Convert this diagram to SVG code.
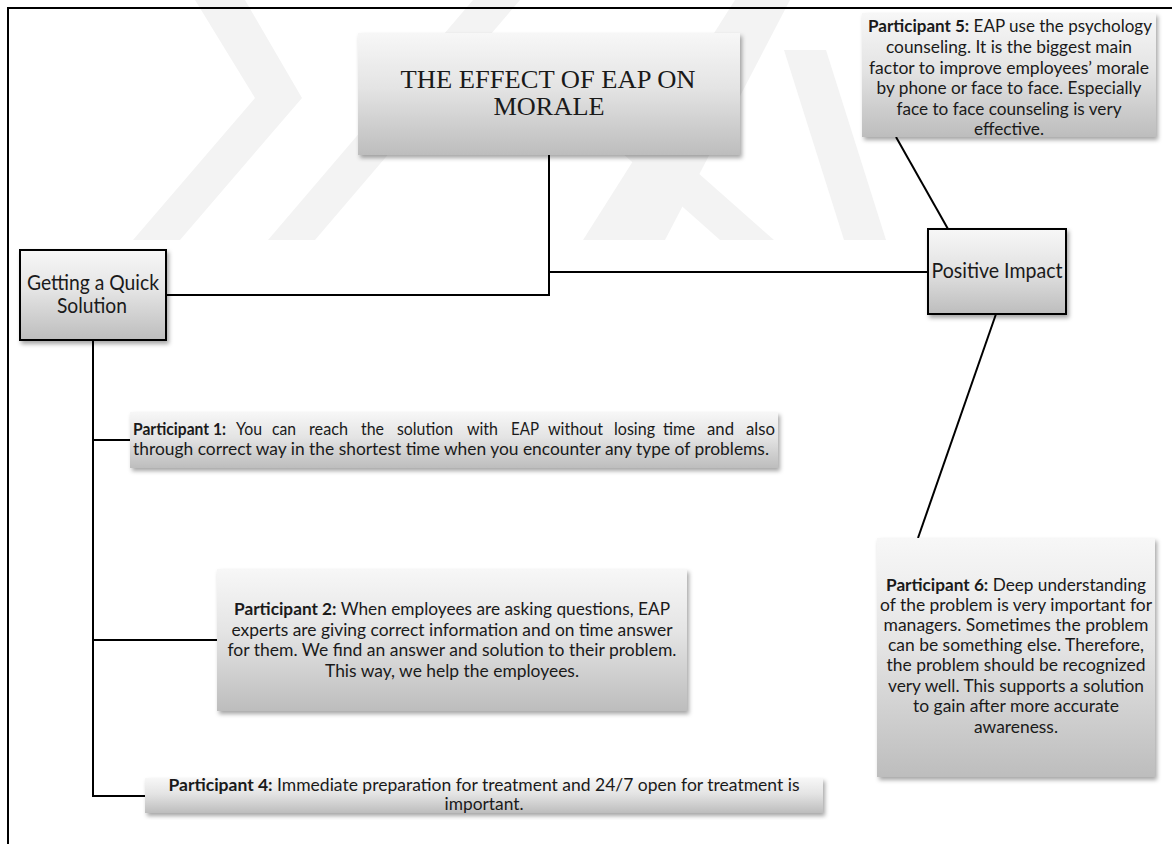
<svg xmlns="http://www.w3.org/2000/svg" width="1172" height="844" viewBox="0 0 1172 844">
<defs>
<linearGradient id="g" x1="0" y1="0" x2="0" y2="1">
<stop offset="0" stop-color="#f7f7f7"/>
<stop offset="0.45" stop-color="#e4e4e4"/>
<stop offset="1" stop-color="#bdbdbd"/>
</linearGradient>
<filter id="sh" x="-5%" y="-10%" width="112%" height="130%">
<feDropShadow dx="2" dy="3" stdDeviation="2" flood-color="#000" flood-opacity="0.35"/>
</filter>
<style>
.box{fill:url(#g);filter:url(#sh)}
.bbox{fill:url(#g);stroke:#000;stroke-width:2;filter:url(#sh)}
.t{font-family:Lato,Carlito,"Liberation Sans",sans-serif;font-size:17px;fill:#1a1a1a}
.l{font-family:Lato,Carlito,"Liberation Sans",sans-serif;font-size:21px;fill:#1a1a1a}
.ti{font-family:"Liberation Serif","Times New Roman",serif;font-size:26px;fill:#1a1a1a}
.b{font-weight:bold}
.c{text-anchor:middle}
.ln{fill:none;stroke:#000;stroke-width:2}
.wm{fill:#f3f3f3}
</style>
</defs>
<rect width="1172" height="844" fill="#fff"/>
<g id="watermark">
<polygon class="wm" points="195,0 245,0 302,98 180,240 133,240 255,98"/>
<polygon class="wm" points="268,240 315,240 520,0 473,0"/>
<polygon class="wm" points="487,33 540,33 774,240 720,240"/>
<polygon class="wm" points="583,240 665,240 790,0 735,0"/>
<polygon class="wm" points="784,50 826,50 886,240 844,240"/>
</g>
<g id="frame">
<path class="ln" d="M8,844 V8 H1172"/>
</g>
<g id="connectors">
<path class="ln" d="M549,155 V295 H166"/>
<path class="ln" d="M549,272 H928"/>
<path class="ln" d="M896,137 L948,229"/>
<path class="ln" d="M996,314 L918,538"/>
<path class="ln" d="M93,340 V796 H145"/>
<path class="ln" d="M93,440 H130"/>
<path class="ln" d="M93,640 H217"/>
</g>
<g id="title">
<rect class="box" x="358" y="33" width="382" height="122"/>
<text class="ti c" x="548" y="88" textLength="295" lengthAdjust="spacingAndGlyphs">THE EFFECT OF EAP ON</text>
<text class="ti c" x="549" y="115" textLength="111" lengthAdjust="spacingAndGlyphs">MORALE</text>
</g>
<g id="quick-solution">
<rect class="bbox" x="20" y="250" width="146" height="90"/>
<text class="l c" x="93" y="290" textLength="132" lengthAdjust="spacingAndGlyphs">Getting a Quick</text>
<text class="l c" x="92" y="313" textLength="70" lengthAdjust="spacingAndGlyphs">Solution</text>
</g>
<g id="positive-impact">
<rect class="bbox" x="928" y="229" width="138" height="85"/>
<text class="l c" x="997" y="278" textLength="131" lengthAdjust="spacingAndGlyphs">Positive Impact</text>
</g>
<g id="participant5">
<rect class="box" x="862" y="13" width="294" height="124"/>
<text class="t c" x="1010" y="32" textLength="284" lengthAdjust="spacingAndGlyphs"><tspan class="b">Participant 5:</tspan> EAP use the psychology</text>
<text class="t c" x="1009" y="53" textLength="246" lengthAdjust="spacingAndGlyphs">counseling. It is the biggest main</text>
<text class="t c" x="1009" y="74" textLength="280" lengthAdjust="spacingAndGlyphs">factor to improve employees’ morale</text>
<text class="t c" x="1009" y="94" textLength="265" lengthAdjust="spacingAndGlyphs">by phone or face to face. Especially</text>
<text class="t c" x="1009" y="115" textLength="225" lengthAdjust="spacingAndGlyphs">face to face counseling is very</text>
<text class="t c" x="1009" y="135" textLength="70" lengthAdjust="spacingAndGlyphs">effective.</text>
</g>
<g id="participant6">
<rect class="box" x="877" y="538" width="278" height="239"/>
<text class="t c" x="1016" y="591" textLength="260" lengthAdjust="spacingAndGlyphs"><tspan class="b">Participant 6:</tspan> Deep understanding</text>
<text class="t c" x="1016" y="611" textLength="272" lengthAdjust="spacingAndGlyphs">of the problem is very important for</text>
<text class="t c" x="1016" y="631" textLength="265" lengthAdjust="spacingAndGlyphs">managers. Sometimes the problem</text>
<text class="t c" x="1016" y="651" textLength="256" lengthAdjust="spacingAndGlyphs">can be something else. Therefore,</text>
<text class="t c" x="1016" y="671" textLength="259" lengthAdjust="spacingAndGlyphs">the problem should be recognized</text>
<text class="t c" x="1016" y="692" textLength="256" lengthAdjust="spacingAndGlyphs">very well. This supports a solution</text>
<text class="t c" x="1016" y="712" textLength="206" lengthAdjust="spacingAndGlyphs">to gain after more accurate</text>
<text class="t c" x="1016" y="733" textLength="84" lengthAdjust="spacingAndGlyphs">awareness.</text>
</g>
<g id="participant1">
<rect class="box" x="130" y="412" width="648" height="56"/>
<text class="t b" x="133" y="435" textLength="93" lengthAdjust="spacingAndGlyphs">Participant 1:</text>
<text class="t" x="236" y="435" textLength="26" lengthAdjust="spacingAndGlyphs">You</text>
<text class="t" x="272" y="435" textLength="24" lengthAdjust="spacingAndGlyphs">can</text>
<text class="t" x="309" y="435" textLength="39" lengthAdjust="spacingAndGlyphs">reach</text>
<text class="t" x="361" y="435" textLength="23" lengthAdjust="spacingAndGlyphs">the</text>
<text class="t" x="397" y="435" textLength="56" lengthAdjust="spacingAndGlyphs">solution</text>
<text class="t" x="467" y="435" textLength="31" lengthAdjust="spacingAndGlyphs">with</text>
<text class="t" x="511" y="435" textLength="28" lengthAdjust="spacingAndGlyphs">EAP</text>
<text class="t" x="548" y="435" textLength="55" lengthAdjust="spacingAndGlyphs">without</text>
<text class="t" x="614" y="435" textLength="41" lengthAdjust="spacingAndGlyphs">losing</text>
<text class="t" x="663" y="435" textLength="32" lengthAdjust="spacingAndGlyphs">time</text>
<text class="t" x="707" y="435" textLength="27" lengthAdjust="spacingAndGlyphs">and</text>
<text class="t" x="746" y="435" textLength="29" lengthAdjust="spacingAndGlyphs">also</text>
<text class="t" x="133" y="455" textLength="636" lengthAdjust="spacingAndGlyphs">through correct way in the shortest time when you encounter any type of problems.</text>
</g>
<g id="participant2">
<rect class="box" x="217" y="569" width="470" height="142"/>
<text class="t c" x="452" y="615" textLength="436" lengthAdjust="spacingAndGlyphs"><tspan class="b">Participant 2:</tspan> When employees are asking questions, EAP</text>
<text class="t c" x="452" y="636" textLength="441" lengthAdjust="spacingAndGlyphs">experts are giving correct information and on time answer</text>
<text class="t c" x="452" y="656" textLength="449" lengthAdjust="spacingAndGlyphs">for them. We find an answer and solution to their problem.</text>
<text class="t c" x="452" y="677" textLength="254" lengthAdjust="spacingAndGlyphs">This way, we help the employees.</text>
</g>
<g id="participant4">
<rect class="box" x="145" y="778" width="678" height="35"/>
<text class="t c" x="484" y="791" textLength="631" lengthAdjust="spacingAndGlyphs"><tspan class="b">Participant 4:</tspan> Immediate preparation for treatment and 24/7 open for treatment is</text>
<text class="t c" x="484" y="810" textLength="79" lengthAdjust="spacingAndGlyphs">important.</text>
</g>
</svg>
